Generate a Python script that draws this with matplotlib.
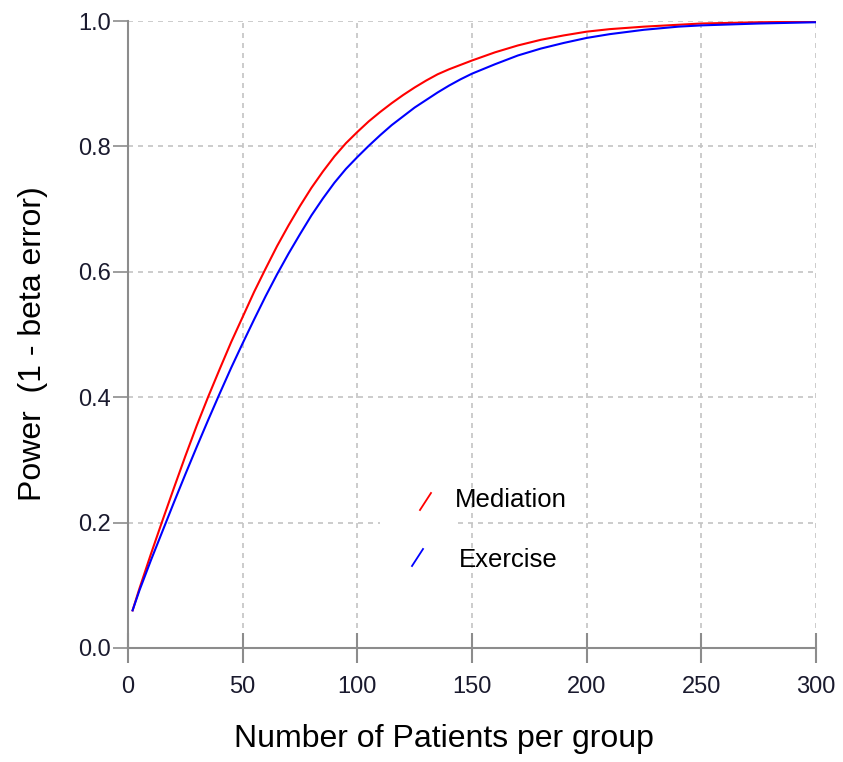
import matplotlib
matplotlib.use('Agg')
import matplotlib.pyplot as plt
from matplotlib.patches import Rectangle

# power curves
n_patients = [2, 5, 10, 15, 20, 25, 30, 35, 40, 45, 50, 55, 60, 65, 70, 75, 80,
              85, 90, 95, 100, 105, 110, 115, 120, 125, 130, 135, 140, 145, 150,
              160, 170, 180, 190, 200, 210, 225, 240, 250, 275, 300]
power_mediation = [0.060, 0.095, 0.150, 0.203, 0.255, 0.306, 0.355, 0.401, 0.445,
                   0.488, 0.528, 0.568, 0.605, 0.641, 0.674, 0.705, 0.734, 0.760,
                   0.784, 0.805, 0.823, 0.840, 0.855, 0.869, 0.882, 0.894, 0.905,
                   0.915, 0.923, 0.930, 0.937, 0.950, 0.961, 0.970, 0.977, 0.983,
                   0.987, 0.991, 0.994, 0.996, 0.998, 0.999]
power_exercise = [0.060, 0.092, 0.140, 0.186, 0.232, 0.277, 0.321, 0.364, 0.406,
                  0.447, 0.486, 0.524, 0.561, 0.596, 0.629, 0.660, 0.690, 0.717,
                  0.742, 0.764, 0.783, 0.801, 0.818, 0.834, 0.848, 0.862, 0.874,
                  0.886, 0.897, 0.907, 0.916, 0.931, 0.945, 0.956, 0.965, 0.973,
                  0.979, 0.986, 0.991, 0.993, 0.996, 0.998]

x_ticks = [0, 50, 100, 150, 200, 250, 300]
y_ticks = [0.0, 0.2, 0.4, 0.6, 0.8, 1.0]

plt.rcParams['font.family'] = ['Liberation Sans', 'DejaVu Sans']

fig = plt.figure(figsize=(8.43, 7.62), dpi=100)
ax = fig.add_axes([128 / 843, 1 - 648 / 762, 688 / 843, 627 / 762])

ax.plot(n_patients, power_mediation, color='#ff0000', lw=1.5, zorder=3)
ax.plot(n_patients, power_exercise, color='#0000ff', lw=1.5, zorder=3)

ax.set_xlim(0, 300)
ax.set_ylim(0, 1)
ax.set_xticks(x_ticks)
ax.set_yticks(y_ticks)
ax.set_yticklabels(['%.1f' % v for v in y_ticks])

ax.grid(True, color='#c4c4c4', linestyle=(0, (3, 3)), lw=1.2)
for side in ['top', 'right']:
    ax.spines[side].set_visible(False)
for side in ['left', 'bottom']:
    ax.spines[side].set_color('#8c8c8c')
    ax.spines[side].set_linewidth(1.5)

ax.tick_params(axis='x', direction='inout', length=22, width=1.5, color='#8c8c8c',
               labelsize=17, labelcolor='#1a1a2e', pad=9)
ax.tick_params(axis='y', direction='out', length=11, width=1.2, color='#8c8c8c',
               labelsize=17, labelcolor='#1a1a2e', pad=1)

ax.set_xlabel('Number of Patients per group', fontsize=23)
ax.set_ylabel('Power  (1 - beta error)', fontsize=23)
ax.xaxis.set_label_coords(0.459, -0.121)
ax.yaxis.set_label_coords(-0.116, 0.485)

# legend drawn by hand: short slanted strokes on a white patch
ax.add_patch(Rectangle((0.366, 0.11), 0.109, 0.16, transform=ax.transAxes,
                       facecolor='white', edgecolor='none', zorder=2))
ax.plot([0.4244, 0.4404], [0.2201, 0.2472], transform=ax.transAxes,
        color='#ff0000', lw=1.3, zorder=3)
ax.plot([0.4128, 0.4288], [0.1308, 0.1579], transform=ax.transAxes,
        color='#0000ff', lw=1.3, zorder=3)
ax.text(0.4753, 0.236, 'Mediation', transform=ax.transAxes, fontsize=18.5,
        va='center', ha='left', zorder=3)
ax.text(0.4811, 0.1404, 'Exercise', transform=ax.transAxes, fontsize=18.5,
        va='center', ha='left', zorder=3)

fig.savefig('out.png', dpi=100)
